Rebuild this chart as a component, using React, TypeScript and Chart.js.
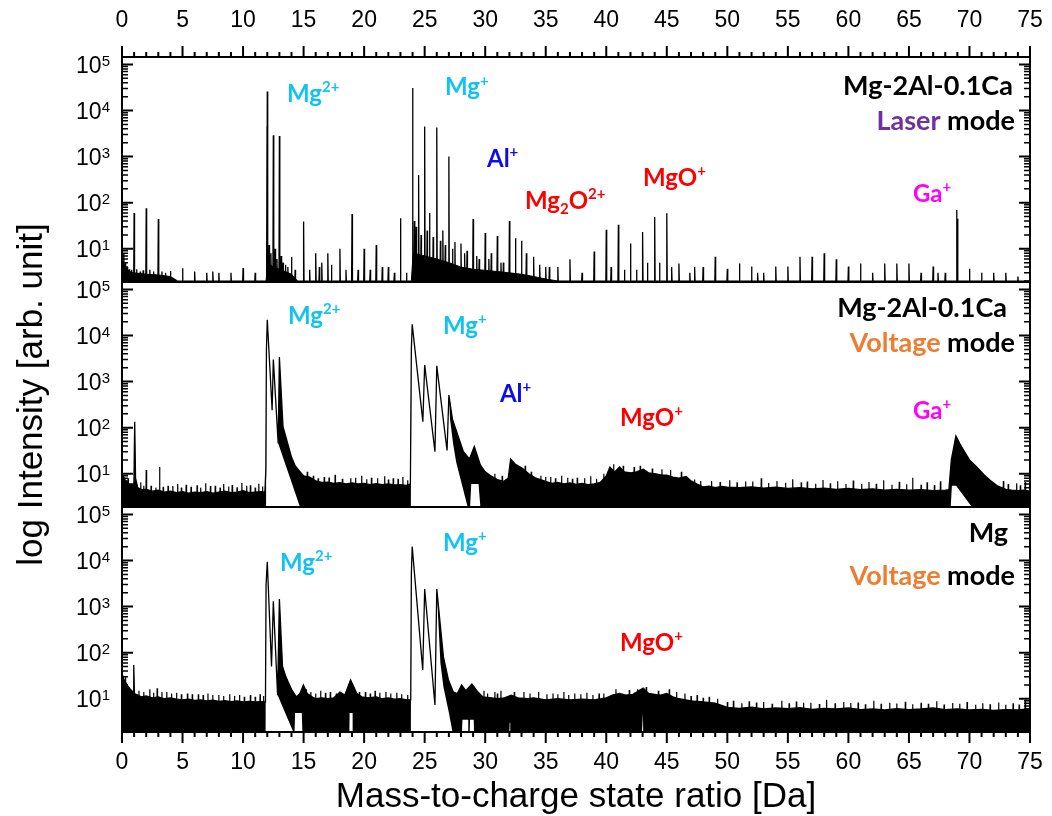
import React, { useEffect, useRef } from 'react';
import { Chart, registerables } from 'chart.js';

Chart.register(...registerables);

// ---------------- data ----------------
const xTickValues = [0, 5, 10, 15, 20, 25, 30, 35, 40, 45, 50, 55, 60, 65, 70, 75];
const yTickExponents = [1, 2, 3, 4, 5];
const X_MIN = 0;
const X_MAX = 75;
const Y_MIN = 1.9;
const Y_MAX = 1.45e5;

// Panel 1: Mg-2Al-0.1Ca, laser mode (stick spectrum)
const laserStickMz = [
  0.15, 0.3, 0.45, 0.6, 0.8, 1.0, 1.2, 1.5, 1.75, 2.0, 2.3, 2.6, 3.0, 3.3, 3.6, 4.0, 5.0, 6.0, 7.0, 7.5,
  8.0, 9.0, 10.0, 11.0, 11.98, 12.0, 12.15, 12.3, 12.5, 12.65, 12.8, 13.0, 13.15, 13.3, 13.5, 13.7, 14.0, 14.3, 15.0, 15.5,
  16.0, 16.3, 16.5, 17.0, 17.3, 18.0, 18.5, 19.0, 19.5, 20.0, 20.5, 21.0, 21.5, 22.0, 22.5, 23.0, 23.5, 24.0, 24.15, 24.3,
  24.5, 24.7, 25.0, 25.2, 25.4, 25.7, 26.0, 26.3, 26.5, 26.7, 27.0, 27.3, 27.5, 28.0, 28.3, 28.5, 29.0, 29.3, 29.5, 30.0,
  30.3, 30.5, 31.0, 31.3, 31.5, 32.0, 32.5, 33.0, 33.4, 34.0, 34.5, 35.0, 35.3, 36.0, 37.0, 38.0, 39.0, 40.0, 40.4, 41.0,
  41.5, 42.0, 42.5, 43.0, 43.4, 44.0, 44.4, 45.0, 45.4, 46.0, 46.9, 47.3, 48.0, 49.0, 50.0, 51.0, 52.0, 52.5, 53.0, 54.0,
  55.0, 56.0, 57.0, 58.0, 59.0, 60.0, 61.0, 62.0, 63.0, 64.0, 65.0, 66.0, 67.0, 67.4, 68.0, 68.93, 69.0, 70.0, 71.0, 72.0,
  73.0, 74.0,
];
const laserStickInt = [
  8, 5, 4, 3.6, 3.5, 60, 3.6, 3.2, 3.4, 76, 3.5, 3.2, 44, 3.2, 3.0, 3.3, 3.8, 3.2, 3.0, 3.2,
  3.0, 3.0, 3.8, 3.0, 4500, 26000, 12, 8, 2900, 10, 6, 2800, 7, 5, 4.5, 4, 6.6, 3.5, 39, 3.5,
  8, 4, 5, 8, 4.5, 10, 3.5, 57, 3.5, 10, 3.5, 12, 4, 4, 3, 46, 3, 31000, 40, 30,
  400, 20, 4500, 25, 60, 18, 4300, 15, 25, 12, 1000, 10, 14, 13, 8, 9, 44, 7, 6, 22,
  6, 8, 19, 5, 5, 40, 17, 15, 8, 6.7, 4.5, 4, 4, 4, 5.9, 3, 8.7, 26, 4, 33,
  3.5, 13, 3.5, 23, 5, 49, 5, 59, 4, 4.8, 3, 4, 4, 6.7, 3.7, 4.8, 4.1, 3, 3, 4.1,
  4.1, 6.7, 6.7, 8, 5.9, 4.1, 4.8, 3, 4.8, 4.8, 4.8, 3, 4.1, 3, 3, 69, 45, 3.7, 3, 3,
  3, 2.5,
];
const laserBgMz = [0, 0.3, 0.6, 1, 2, 3, 4, 4.6, 11.9, 12.05, 12.5, 13, 13.5, 14, 14.5, 23.9, 24.05, 25, 26, 27, 28, 29, 30, 31, 32, 33, 34, 35, 36, 75];
const laserBgInt = [6, 4, 3.2, 3, 2.8, 2.7, 2.5, 2.0, 2.0, 5, 4, 3.6, 3.2, 2.8, 2.0, 2.0, 8, 7, 6, 5, 4, 3.6, 3.4, 3.2, 3, 2.8, 2.5, 2.2, 2.0, 2.0];

// Panel 2: Mg-2Al-0.1Ca, voltage mode (upper / lower envelope + noise spikes)
const midUpMz = [
  0, 0.3, 0.6, 0.9, 0.98, 1.05, 1.12, 1.3, 1.6, 2, 2.5, 3, 3.5, 4, 4.5, 5, 5.5, 6, 6.5, 7,
  7.5, 8, 8.5, 9, 9.5, 10, 10.5, 11, 11.5, 11.8, 11.88, 11.93, 12.0, 12.4, 12.5, 12.9, 13.0, 13.3, 13.6, 14.0,
  14.3, 14.6, 15.0, 15.5, 16, 16.5, 17, 17.5, 18, 18.5, 19, 19.5, 20, 20.5, 21, 21.5, 22, 22.5, 23, 23.5,
  23.82, 23.9, 23.97, 24.85, 25.0, 25.85, 26.0, 26.85, 27.0, 27.3, 27.65, 28.2, 28.7, 29.1, 29.6, 30.0, 30.4, 31.0, 31.5, 31.9,
  32.1, 32.5, 33.1, 33.6, 34.2, 35, 35.5, 36, 36.5, 37, 37.5, 38, 38.5, 39, 39.5, 40, 40.3, 40.7, 41.1, 41.5,
  42, 42.5, 43.05, 43.5, 44, 44.5, 45, 45.5, 46, 46.6, 47, 47.5, 48, 48.5, 49, 49.5, 50, 51, 52, 53,
  54, 55, 56, 57, 58, 59, 60, 61, 62, 63, 64, 65, 66, 67, 68, 68.3, 68.5, 68.88, 69.2, 69.5,
  70.0, 70.6, 71.2, 71.7, 72.3, 73, 73.5, 74, 74.5, 75,
];
const midUpInt = [
  10, 7, 6, 6, 5, 134, 8, 5, 4.5, 4.6, 4.2, 4.4, 4.0, 4.2, 3.9, 4.1, 3.8, 4.0, 3.9, 4.1,
  3.8, 4.0, 4.2, 3.9, 4.0, 4.3, 3.9, 4.0, 4.1, 4.0, 12, 5000, 22000, 240, 3000, 46, 3400, 105, 55, 23,
  15, 12, 9, 8.5, 7, 6.5, 6.6, 6.2, 6.4, 6.0, 6.3, 6.0, 6.2, 5.8, 6.1, 5.8, 6.0, 5.7, 5.8, 5.6,
  6, 5000, 17500, 135, 2300, 30, 2200, 32, 510, 150, 81, 30, 21, 39, 15.5, 11, 9.3, 7.5, 6.8, 8,
  21, 16, 13, 10, 8, 6.8, 6.2, 6.5, 6.0, 6.3, 5.9, 6.2, 5.8, 6.0, 6.5, 9, 14, 11, 14, 11,
  10.5, 11, 12.6, 10.5, 10, 9.5, 9.3, 8.5, 8, 8.7, 7, 6, 5.2, 5.4, 5.0, 5.3, 5.1, 5.0, 5.2, 4.9,
  5.1, 4.8, 5.0, 4.7, 4.9, 4.6, 4.8, 4.5, 4.7, 4.4, 4.6, 4.4, 4.5, 4.3, 4.4, 4.5, 20, 66, 45, 33,
  20, 14, 9.5, 7.2, 5.5, 4.6, 4.4, 4.3, 4.4, 4.2,
];
const midLowMz = [0, 11.9, 14.7, 23.86, 27.1, 27.35, 27.6, 28.0, 28.55, 28.75, 28.85, 29.45, 29.6, 68.45, 68.55, 68.9, 70.2, 75];
const midLowInt = [1.9, 1.9, 1.9, 1.9, 150, 45, 18, 7, 1.9, 1.9, 6, 6, 1.9, 1.9, 5.5, 5.5, 1.9, 1.9];
const midThinRanges = [[11.93, 12.9], [23.9, 27.0]];
const midSpikeMz = [
  1.55, 2.0, 3.1, 3.8, 4.6, 5.3, 6.2, 6.9, 7.7, 8.4, 9.1, 9.9, 10.6, 11.3, 15.8, 16.7, 17.6, 18.9, 19.8, 20.6,
  21.7, 22.4, 23.2, 33.8, 34.6, 35.4, 36.3, 37.6, 38.7, 39.8, 47.3, 48.7, 50.2, 51.5, 52.8, 54.1, 55.4, 56.6, 57.9, 59.1,
  60.4, 61.7, 62.9, 64.2, 65.3, 66.5, 67.6, 72.8, 73.9, 74.6,
];
const midSpikeInt = [
  6.5, 12, 14, 5.5, 6, 5.8, 5.6, 6.2, 5.5, 6, 5.7, 6.3, 5.6, 6.1, 9, 8.5, 9.5, 8, 9, 8.2,
  8.8, 8, 8.5, 11, 9, 8.5, 9, 8.2, 8.8, 10, 7.5, 7, 7.2, 6.8, 8, 7, 7.6, 6.8, 7.3, 6.9,
  7.1, 6.6, 7.2, 6.7, 8.2, 6.5, 6.9, 7, 6.2, 6.6,
];
const midGrassMz = [
  0.5, 1.8, 2.4, 2.8, 3.4, 4.2, 4.9, 5.7, 6.5, 7.3, 8.1, 8.8, 9.5, 10.3, 11.0, 11.6, 15.3, 16.2, 17.1, 18.2,
  19.3, 20.2, 21.1, 22.0, 22.8, 23.6, 30.8, 31.4, 33.3, 35.0, 35.8, 36.8, 37.2, 38.2, 39.2, 40.6, 41.4, 42.3, 42.8, 43.8,
  44.6, 45.3, 46.2, 47.8, 49.4, 50.8, 52.1, 53.4, 54.8, 56.1, 57.3, 58.5, 59.8, 61.1, 62.3, 63.6, 64.8, 66.0, 67.1, 73.2,
  74.2,
];
const midGrassInt = [
  8, 5.5, 5.5, 5, 5.2, 5.4, 5, 5.2, 5, 5.4, 5, 5.3, 5.1, 5.5, 5, 5.3, 11, 8, 8.3, 7.8,
  8.2, 7.6, 8, 7.5, 7.8, 7.2, 10, 9, 15, 8.5, 8, 8.2, 7.8, 8, 7.8, 16, 15, 14, 15, 13,
  12.5, 12, 11, 7, 6.6, 6.5, 6.8, 6.3, 6.4, 6.5, 6.1, 6.2, 6, 6, 6.1, 5.8, 5.9, 5.8, 5.7, 6,
  5.6,
];

// Panel 3: pure Mg, voltage mode
const botUpMz = [
  0, 0.2, 0.4, 0.7, 0.92, 0.97, 1.03, 1.3, 1.6, 2, 2.5, 3, 3.5, 4, 4.5, 5, 5.5, 6, 6.5, 7,
  7.5, 8, 8.5, 9, 9.5, 10, 10.5, 11, 11.5, 11.85, 11.9, 12.0, 12.35, 12.5, 12.85, 13.0, 13.26, 13.5, 13.73, 14.0,
  14.4, 14.7, 14.98, 15.3, 15.7, 16, 16.5, 17, 17.5, 18.0, 18.4, 18.88, 19.4, 19.8, 20.3, 21, 21.5, 22, 22.5, 23,
  23.5, 23.85, 23.9, 23.97, 24.84, 25.0, 25.85, 26.0, 26.55, 26.96, 27.37, 27.7, 28.05, 28.4, 28.9, 29.4, 29.8, 30.5, 31, 31.6,
  32.14, 32.7, 33.5, 34, 35, 36, 37, 38, 39, 40, 40.5, 41.1, 41.6, 42.2, 43.05, 43.5, 44, 44.5, 45, 45.5,
  46, 47, 48, 49, 50, 51, 52, 53, 54, 55, 56, 57, 58, 59, 60, 61, 62, 63, 64, 65,
  66, 67, 68, 69, 70, 71, 72, 73, 74, 75,
];
const botUpInt = [
  35, 25, 20, 16, 14, 54, 13, 12, 11, 11.5, 10.5, 11, 10, 10.5, 9.8, 9.5, 9.8, 9.2, 9.4, 9.0,
  9.3, 8.8, 9.1, 8.7, 9.0, 8.6, 8.8, 8.5, 8.7, 8.5, 3000, 9400, 50, 1300, 12, 1460, 50, 32, 23, 16,
  11, 13, 20, 13, 11, 10, 10.5, 10, 10.5, 14, 12, 25.7, 13, 11, 10.5, 11, 10, 10.5, 9.8, 10,
  9.5, 9.5, 5000, 20000, 42, 2400, 7.3, 2400, 81, 26, 14, 13, 20, 15, 21, 14, 11, 10.5, 10, 10.5,
  12, 10.5, 10, 10.5, 9.5, 10, 9.5, 9.8, 9.5, 10.5, 12, 13, 12, 12.5, 17, 13, 12.5, 12, 13, 11,
  10, 9, 8.5, 8, 6.5, 6.2, 6.6, 6.0, 6.3, 6.1, 6.4, 5.9, 6.2, 6.0, 6.3, 5.8, 6.0, 5.7, 6.1, 5.8,
  6.0, 6.3, 5.8, 6.0, 5.7, 5.9, 5.6, 5.8, 5.7, 6,
];
const botLowMz = [
  0, 11.86, 14.15, 14.25, 14.3, 14.85, 14.9, 18.78, 18.8, 19.05, 19.07, 23.86, 26.3, 26.55, 27.0, 27.3, 28.08, 28.12, 28.6, 28.65,
  28.72, 28.75, 29.05, 29.08, 32.0, 32.02, 32.07, 32.09, 42.95, 42.97, 43.03, 43.05, 75,
];
const botLowInt = [
  1.9, 1.9, 1.9, 1.9, 4.9, 4.9, 1.9, 1.9, 4.9, 4.9, 1.9, 1.9, 60, 18, 5, 1.9, 1.9, 3.5, 3.5, 1.9,
  1.9, 3.5, 3.5, 1.9, 1.9, 3, 3, 1.9, 1.9, 4.9, 4.9, 1.9, 1.9,
];
const botThinRanges = [[11.9, 12.85], [23.9, 26.0]];
const botSpikeMz = [
  1.4, 2.3, 2.9, 3.7, 4.5, 5.4, 6.3, 7.1, 8.0, 8.9, 9.7, 10.6, 11.4, 15.6, 16.4, 17.2, 20.1, 20.9, 21.8, 22.7,
  29.9, 30.8, 31.3, 33.2, 34.4, 35.6, 36.5, 37.4, 38.4, 39.4, 46.5, 47.5, 48.5, 50.5, 51.8, 53.0, 54.5, 55.7, 56.9, 58.2,
  59.6, 60.8, 62.1, 63.4, 64.7, 66.0, 67.3, 68.6, 69.8, 71.1, 72.4, 73.6, 74.6,
];
const botSpikeInt = [
  15, 16, 17, 14, 13.5, 13, 12.5, 13, 12, 12.5, 12, 12, 12.5, 14, 15, 14, 14, 15, 14, 13.5,
  15, 14, 15, 14, 14, 13, 14, 13, 13.5, 13, 13, 12, 11, 9, 8.8, 8.5, 9, 8.7, 8.2, 9.5,
  8.5, 8.3, 9, 8.2, 8.6, 8.2, 8.8, 8.1, 8.5, 8, 8.3, 8, 9,
];
const botGrassMz = [
  0.3, 1.8, 2.6, 3.3, 4.1, 4.9, 5.8, 6.7, 7.5, 8.4, 9.3, 10.1, 11.0, 11.7, 15.2, 16.0, 16.8, 17.7, 19.6, 20.5,
  21.3, 22.2, 23.1, 23.6, 30.2, 31.0, 32.4, 33.7, 35.1, 36.0, 36.9, 37.9, 38.9, 39.8, 40.8, 41.9, 42.6, 43.3, 44.3, 45.2,
  45.8, 47.0, 48.0, 49.2, 50.0, 51.2, 52.4, 53.7, 55.1, 56.3, 57.6, 58.9, 60.2, 61.4, 62.7, 64.0, 65.3, 66.6, 67.9, 69.2,
  70.5, 71.7, 73.0, 74.1,
];
const botGrassInt = [
  30, 14, 13.5, 14, 13, 12.5, 12.5, 12, 12, 11.5, 11.5, 11, 11, 11.5, 16, 13, 13.5, 13, 14, 13,
  13.5, 13, 12.5, 12, 13, 13, 14, 13, 12.5, 12.5, 12, 12.5, 12, 13, 16, 15.5, 16, 18, 15, 16,
  14, 11.5, 10.5, 10, 8.5, 8, 8.3, 7.8, 8, 8.2, 7.7, 8, 8.1, 7.6, 7.8, 7.9, 7.6, 7.8, 7.5, 7.8,
  7.4, 7.6, 7.4, 7.5,
];

// ---------------- styling ----------------
const CYAN = '#12C3F2';
const BLUE = '#0D0DEB';
const RED = '#FF0000';
const MAGENTA = '#FF00FF';
const PURPLE = '#7030A0';
const ORANGE = '#ED7D31';
const BLACK = '#000000';

const W = 1052;
const H = 816;
const PLOT_LEFT = 122;
const PLOT_RIGHT = 1030;
const PANEL_EDGES = [57, 282, 507, 732];
const TICK_FONT = '23px "Liberation Sans", Arial, sans-serif';
const SUP_FONT = '15px "Liberation Sans", Arial, sans-serif';
const TITLE_FONT = '35px "Liberation Sans", Arial, sans-serif';
const ANN_SIZE = 24;
const SAMPLE_SIZE = 27;

type Part = [string, number, string?];
type Ann = { parts: Part[]; color?: string; x: number; y: number; align?: 'left' | 'right'; size?: number };

const topAnn: Ann[] = [
  { parts: [['Mg', 0], ['2+', 1]], color: CYAN, x: 13.63, y: 2.4e4 },
  { parts: [['Mg', 0], ['+', 1]], color: CYAN, x: 26.68, y: 3.3e4 },
  { parts: [['Al', 0], ['+', 1]], color: BLUE, x: 30.15, y: 930 },
  { parts: [['Mg', 0], ['2', 2], ['O', 0], ['2+', 1]], color: RED, x: 33.29, y: 114 },
  { parts: [['MgO', 0], ['+', 1]], color: RED, x: 43.03, y: 360 },
  { parts: [['Ga', 0], ['+', 1]], color: MAGENTA, x: 65.33, y: 162 },
  { parts: [['Mg-2Al-0.1Ca', 0]], color: BLACK, x: 73.59, y: 3.6e4, align: 'right', size: SAMPLE_SIZE },
  { parts: [['Laser', 0, PURPLE], [' mode', 0, BLACK]], x: 73.76, y: 6.2e3, align: 'right', size: SAMPLE_SIZE },
];
const midAnn: Ann[] = [
  { parts: [['Mg', 0], ['2+', 1]], color: CYAN, x: 13.71, y: 2.78e4 },
  { parts: [['Mg', 0], ['+', 1]], color: CYAN, x: 26.51, y: 1.69e4 },
  { parts: [['Al', 0], ['+', 1]], color: BLUE, x: 31.22, y: 565 },
  { parts: [['MgO', 0], ['+', 1]], color: RED, x: 41.13, y: 170 },
  { parts: [['Ga', 0], ['+', 1]], color: MAGENTA, x: 65.33, y: 242 },
  { parts: [['Mg-2Al-0.1Ca', 0]], color: BLACK, x: 73.1, y: 4.15e4, align: 'right', size: SAMPLE_SIZE },
  { parts: [['Voltage', 0, ORANGE], [' mode', 0, BLACK]], x: 73.76, y: 7.2e3, align: 'right', size: SAMPLE_SIZE },
];
const botAnn: Ann[] = [
  { parts: [['Mg', 0], ['2+', 1]], color: CYAN, x: 13.05, y: 9.3e3 },
  { parts: [['Mg', 0], ['+', 1]], color: CYAN, x: 26.51, y: 2.5e4 },
  { parts: [['MgO', 0], ['+', 1]], color: RED, x: 41.13, y: 170 },
  { parts: [['Mg', 0]], color: BLACK, x: 73.18, y: 4.15e4, align: 'right', size: SAMPLE_SIZE },
  { parts: [['Voltage', 0, ORANGE], [' mode', 0, BLACK]], x: 73.76, y: 4.9e3, align: 'right', size: SAMPLE_SIZE },
];

// ---------------- helpers ----------------
function pts(xs: number[], ys: number[]) {
  return xs.map((x, i) => ({ x, y: ys[i] }));
}
function sticks(xs: number[], ys: number[], base: number) {
  const out: { x: number; y: number }[] = [];
  const hw = 0.035;
  xs.forEach((x, i) => {
    out.push({ x: x - hw, y: base }, { x, y: ys[i] }, { x: x + hw, y: base });
  });
  return out;
}
function buildLower(lx: number[], ly: number[], ux: number[], uy: number[], thin: number[][]) {
  const out = pts(lx, ly);
  ux.forEach((x, i) => {
    if (thin.some(([a, b]) => x >= a && x <= b)) out.push({ x, y: uy[i] });
  });
  return out.sort((a, b) => a.x - b.x);
}

function drawRich(ctx: CanvasRenderingContext2D, ann: Ann, px: number, py: number) {
  const size = ann.size || ANN_SIZE;
  const small = Math.round(size * 0.62);
  const fontFor = (k: number) => `bold ${k === 0 ? size : small}px Lato, "Open Sans", sans-serif`;
  let w = 0;
  ann.parts.forEach((p) => {
    ctx.font = fontFor(p[1]);
    w += ctx.measureText(p[0]).width;
  });
  let cx = ann.align === 'right' ? px - w : px;
  const base = py + size * 0.36;
  ctx.textAlign = 'left';
  ctx.textBaseline = 'alphabetic';
  ann.parts.forEach((p) => {
    ctx.font = fontFor(p[1]);
    ctx.fillStyle = p[2] || ann.color || BLACK;
    const dy = p[1] === 1 ? -size * 0.4 : p[1] === 2 ? size * 0.22 : 0;
    ctx.fillText(p[0], cx, base + dy);
    cx += ctx.measureText(p[0]).width;
  });
}

type PanelSpec = {
  index: number;
  datasets: any[];
  anns: Ann[];
  showTop: boolean;
  showBottom: boolean;
  showYTitle: boolean;
};

function makeFramePlugin(spec: PanelSpec) {
  return {
    id: 'frame' + spec.index,
    afterDraw(chart: any) {
      const ctx: CanvasRenderingContext2D = chart.ctx;
      const xs = chart.scales.x;
      const ys = chart.scales.y;
      const { left, right, top, bottom } = chart.chartArea;
      ctx.save();
      ctx.strokeStyle = BLACK;
      ctx.fillStyle = BLACK;
      // y ticks (inward, both sides)
      for (let e = 0; e <= 5; e++) {
        for (let m = 1; m <= 9; m++) {
          const v = m * Math.pow(10, e);
          if (v < Y_MIN || v > Y_MAX) continue;
          const py = ys.getPixelForValue(v);
          const len = m === 1 ? 11 : 6;
          ctx.lineWidth = m === 1 ? 2 : 1.5;
          ctx.beginPath();
          ctx.moveTo(left, py);
          ctx.lineTo(left + len, py);
          ctx.moveTo(right, py);
          ctx.lineTo(right - len, py);
          ctx.stroke();
        }
      }
      // y labels 10^n
      yTickExponents.forEach((e) => {
        const py = ys.getPixelForValue(Math.pow(10, e));
        const sup = String(e);
        ctx.font = SUP_FONT;
        const sw = ctx.measureText(sup).width;
        const lx = 110 - sw;
        ctx.textAlign = 'left';
        ctx.textBaseline = 'alphabetic';
        ctx.fillText(sup, lx, py + 1.5);
        ctx.font = TICK_FONT;
        ctx.textAlign = 'right';
        ctx.textBaseline = 'middle';
        ctx.fillText('10', lx, py + 2);
      });
      // x ticks
      for (let i = X_MIN; i <= X_MAX; i++) {
        const px = xs.getPixelForValue(i);
        const major = i % 5 === 0;
        const len = major ? 11 : 5;
        ctx.lineWidth = 2;
        ctx.beginPath();
        if (spec.showTop) {
          ctx.moveTo(px, top);
          ctx.lineTo(px, top - len);
        }
        if (spec.showBottom) {
          ctx.moveTo(px, bottom);
          ctx.lineTo(px, bottom + len);
        }
        ctx.stroke();
      }
      ctx.font = TICK_FONT;
      ctx.textAlign = 'center';
      ctx.textBaseline = 'middle';
      xTickValues.forEach((v) => {
        const px = xs.getPixelForValue(v);
        if (spec.showTop) ctx.fillText(String(v), px, 21);
        if (spec.showBottom) ctx.fillText(String(v), px, 763);
      });
      // frame
      ctx.lineWidth = 2;
      ctx.strokeRect(left, top, right - left, bottom - top);
      // titles
      ctx.font = TITLE_FONT;
      ctx.textAlign = 'center';
      ctx.textBaseline = 'middle';
      if (spec.showBottom) {
        ctx.fillText('Mass-to-charge state ratio [Da]', (PLOT_LEFT + PLOT_RIGHT) / 2, 797);
      }
      if (spec.showYTitle) {
        ctx.save();
        ctx.translate(32, (PANEL_EDGES[0] + PANEL_EDGES[3]) / 2);
        ctx.rotate(-Math.PI / 2);
        ctx.fillText('log Intensity [arb. unit]', 0, 0);
        ctx.restore();
      }
      // annotations
      spec.anns.forEach((a) => {
        drawRich(ctx, a, xs.getPixelForValue(a.x), ys.getPixelForValue(a.y));
      });
      ctx.restore();
    },
  };
}

function Panel({ spec }: { spec: PanelSpec }) {
  const ref = useRef<HTMLCanvasElement>(null);
  useEffect(() => {
    const canvas = ref.current;
    if (!canvas) return;
    const chart = new Chart(canvas, {
      type: 'line',
      data: { datasets: spec.datasets },
      options: {
        animation: false,
        responsive: false,
        devicePixelRatio: 1,
        normalized: true,
        layout: {
          padding: {
            left: PLOT_LEFT,
            right: W - PLOT_RIGHT,
            top: PANEL_EDGES[spec.index],
            bottom: H - PANEL_EDGES[spec.index + 1],
          },
        },
        scales: {
          x: { type: 'linear', min: X_MIN, max: X_MAX, display: false },
          y: { type: 'logarithmic', min: Y_MIN, max: Y_MAX, display: false },
        },
        elements: { point: { radius: 0 }, line: { tension: 0 } },
        plugins: { legend: { display: false }, tooltip: { enabled: false } },
      } as any,
      plugins: [makeFramePlugin(spec)],
    });
    return () => chart.destroy();
  }, [spec]);
  return (
    <canvas
      ref={ref}
      width={W}
      height={H}
      style={{ position: 'absolute', left: 0, top: 0, width: W, height: H }}
    />
  );
}

const lineStyle = { borderColor: BLACK, pointRadius: 0, tension: 0 };

const specs: PanelSpec[] = [
  {
    index: 0,
    showTop: true,
    showBottom: false,
    showYTitle: false,
    anns: topAnn,
    datasets: [
      { ...lineStyle, data: sticks(laserStickMz, laserStickInt, Y_MIN), borderWidth: 1.3, fill: false },
      { ...lineStyle, data: pts(laserBgMz, laserBgInt), borderWidth: 1, fill: 'start', backgroundColor: BLACK },
    ],
  },
  {
    index: 1,
    showTop: false,
    showBottom: false,
    showYTitle: true,
    anns: midAnn,
    datasets: [
      { ...lineStyle, data: sticks(midSpikeMz, midSpikeInt, Y_MIN), borderWidth: 1.2, fill: false },
      { ...lineStyle, data: sticks(midGrassMz, midGrassInt, Y_MIN), borderWidth: 1.2, fill: false },
      { ...lineStyle, data: pts(midUpMz, midUpInt), borderWidth: 1.3, fill: '+1', backgroundColor: BLACK },
      { ...lineStyle, data: buildLower(midLowMz, midLowInt, midUpMz, midUpInt, midThinRanges), borderWidth: 0, fill: false },
    ],
  },
  {
    index: 2,
    showTop: false,
    showBottom: true,
    showYTitle: false,
    anns: botAnn,
    datasets: [
      { ...lineStyle, data: sticks(botSpikeMz, botSpikeInt, Y_MIN), borderWidth: 1.2, fill: false },
      { ...lineStyle, data: sticks(botGrassMz, botGrassInt, Y_MIN), borderWidth: 1.2, fill: false },
      { ...lineStyle, data: pts(botUpMz, botUpInt), borderWidth: 1.3, fill: '+1', backgroundColor: BLACK },
      { ...lineStyle, data: buildLower(botLowMz, botLowInt, botUpMz, botUpInt, botThinRanges), borderWidth: 0, fill: false },
    ],
  },
];

export default function App() {
  return (
    <div style={{ position: 'fixed', left: 0, top: 0, width: W, height: H, background: '#fff', overflow: 'hidden' }}>
      {specs.map((s) => (
        <Panel key={s.index} spec={s} />
      ))}
    </div>
  );
}
